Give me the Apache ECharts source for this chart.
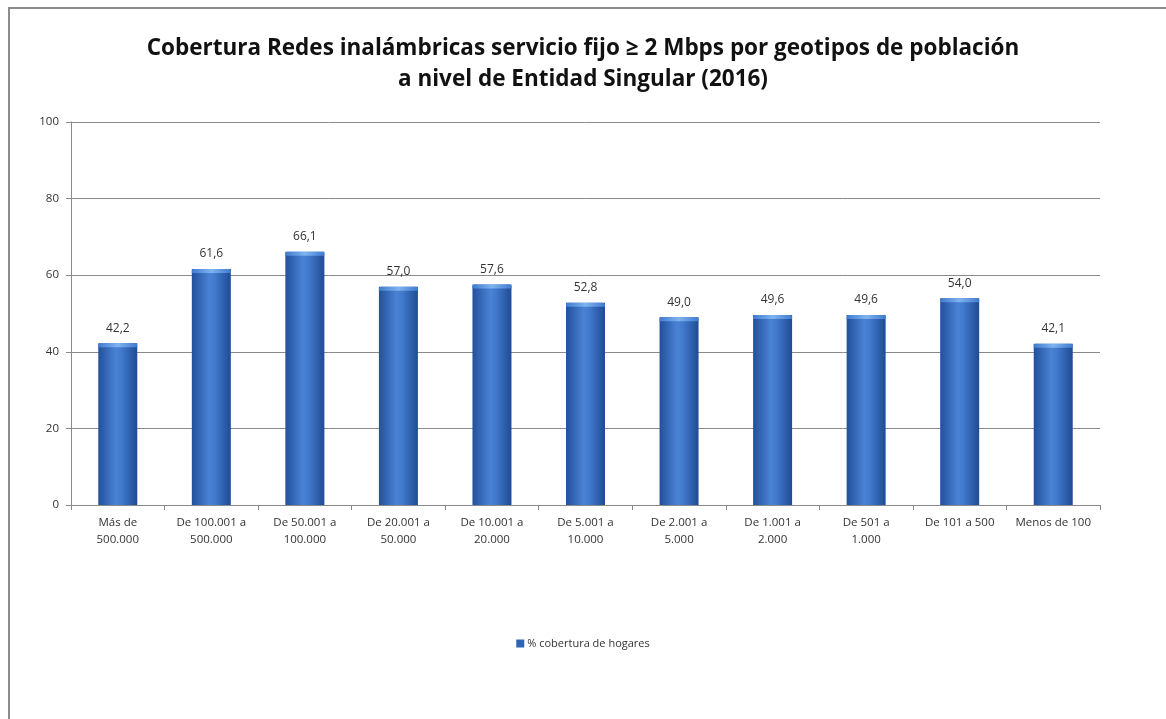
<!DOCTYPE html>
<html>
<head>
<meta charset="utf-8">
<title>Cobertura Redes inalámbricas</title>
<script src="https://cdn.jsdelivr.net/npm/echarts@6/dist/echarts.min.js"></script>
<style>
  html, body { margin: 0; padding: 0; background: #fff; }
  #chart { width: 1166px; height: 719px; }
</style>
</head>
<body>
<div id="chart"></div>
<script>
// Population geotypes (Entidad Singular)
const categories = [
  'Más de\n500.000', 'De 100.001 a\n500.000', 'De 50.001 a\n100.000',
  'De 20.001 a\n50.000', 'De 10.001 a\n20.000', 'De 5.001 a\n10.000',
  'De 2.001 a\n5.000', 'De 1.001 a\n2.000', 'De 501 a\n1.000',
  'De 101 a 500', 'Menos de 100'
];
// % household coverage
const coverage = [42.2, 61.6, 66.1, 57.0, 57.6, 52.8, 49.0, 49.6, 49.6, 54.0, 42.1];
const seriesName = '% cobertura de hogares';
const titleLines = [
  'Cobertura Redes inalámbricas servicio fijo ≥ 2 Mbps por geotipos de población',
  'a nivel de Entidad Singular (2016)'
];

const chart = echarts.init(document.getElementById('chart'), null, { renderer: 'canvas' });
const font = '"Open Sans", "Noto Sans", sans-serif';
const barFill = new echarts.graphic.LinearGradient(0, 0, 1, 0, [
  { offset: 0, color: '#22509c' },
  { offset: 0.45, color: '#4a82d4' },
  { offset: 0.6, color: '#4179cc' },
  { offset: 1, color: '#1f4b94' }
]);

chart.setOption({
  animation: false,
  backgroundColor: '#ffffff',
  graphic: [{
    type: 'rect',
    shape: { x: 9, y: 8, width: 1170, height: 720 },
    style: { fill: 'none', stroke: '#8c8c8c', lineWidth: 2 },
    silent: true
  }],
  title: {
    text: titleLines.join('\n'),
    left: 'center',
    top: 28,
    textStyle: {
      fontFamily: font,
      fontWeight: 'bold',
      fontSize: 22.5,
      lineHeight: 31,
      color: '#111'
    }
  },
  legend: {
    top: 633,
    left: 'center',
    itemWidth: 8,
    itemHeight: 8,
    itemGap: 4,
    icon: 'rect',
    textStyle: { fontFamily: font, fontSize: 11, color: '#333', padding: [0, 0, 0, -2] },
    data: [{ name: seriesName, itemStyle: { color: '#2f63b3' } }]
  },
  grid: { left: 71, right: 66, top: 122, bottom: 214 },
  xAxis: {
    type: 'category',
    data: categories,
    axisLine: { lineStyle: { color: '#8a8a8a', width: 1 } },
    axisTick: { show: true, alignWithLabel: false, length: 5, lineStyle: { color: '#8a8a8a' } },
    axisLabel: {
      interval: 0,
      fontFamily: font,
      fontSize: 11.5,
      lineHeight: 17,
      color: '#333',
      margin: 9
    }
  },
  yAxis: {
    type: 'value',
    min: 0,
    max: 100,
    interval: 20,
    axisLine: { show: true, lineStyle: { color: '#8a8a8a', width: 1 } },
    axisTick: { show: true, length: 5, lineStyle: { color: '#8a8a8a' } },
    splitLine: { lineStyle: { color: '#8a8a8a', width: 1 } },
    axisLabel: { fontFamily: font, fontSize: 11.5, color: '#333', margin: 12 }
  },
  series: [{
    name: seriesName,
    type: 'bar',
    data: coverage,
    barWidth: 39,
    itemStyle: { color: barFill },
    label: {
      show: true,
      position: 'top',
      distance: 9,
      fontFamily: font,
      fontSize: 12,
      color: '#333',
      formatter: p => p.value.toFixed(1).replace('.', ',')
    }
  }, {
    // light rim on top of each bar
    name: 'rim',
    type: 'custom',
    silent: true,
    data: coverage.map((v, i) => [i, v]),
    renderItem: (params, api) => {
      const p = api.coord([api.value(0), api.value(1)]);
      return {
        type: 'rect',
        shape: { x: p[0] - 19.5, y: p[1], width: 39, height: 4, r: [2, 2, 0, 0] },
        style: {
          fill: new echarts.graphic.LinearGradient(0, 0, 1, 0, [
            { offset: 0, color: '#3f7bd0' },
            { offset: 0.5, color: '#7fb3f0' },
            { offset: 1, color: '#3f7bd0' }
          ])
        }
      };
    },
    z: 3
  }]
});
</script>
</body>
</html>
